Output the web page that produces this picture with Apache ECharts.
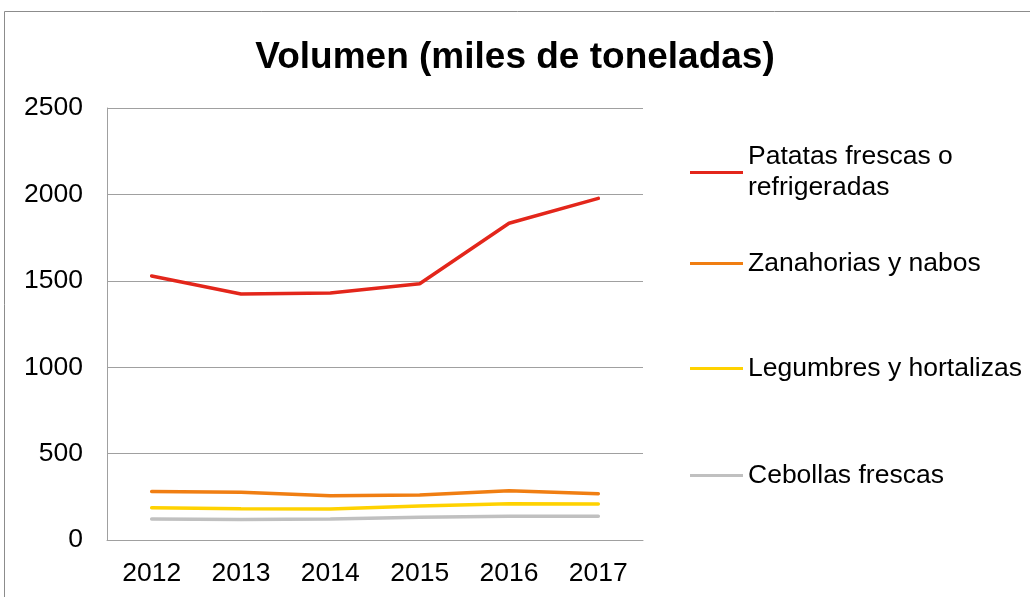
<!DOCTYPE html>
<html>
<head>
<meta charset="utf-8">
<script src="https://cdn.jsdelivr.net/npm/echarts@6/dist/echarts.min.js"></script>
<style>
  html, body { margin: 0; padding: 0; background: #fff; }
  #chart { width: 1030px; height: 597px; }
</style>
</head>
<body>
<div id="chart"></div>
<script>
// datos
var years = ['2012', '2013', '2014', '2015', '2016', '2017'];
var patatas = [1528, 1424, 1430, 1483, 1833, 1977];
var zanahorias = [280, 276, 256, 260, 285, 268];
var legumbres = [187, 181, 179, 197, 210, 208];
var cebollas = [122, 118, 122, 131, 137, 137];
var seriesNames = ['Patatas frescas o\nrefrigeradas', 'Zanahorias y nabos', 'Legumbres y hortalizas', 'Cebollas frescas'];
var seriesColors = ['#E3261B', '#F07E12', '#FFD200', '#C0C0C0'];
var yTicks = [0, 500, 1000, 1500, 2000, 2500];

var chart = echarts.init(document.getElementById('chart'));
var font = 'Liberation Sans, Arial, sans-serif';
var legendTops = [126, 248, 353, 460];
var values = [patatas, zanahorias, legumbres, cebollas];

var legends = seriesNames.map(function (name, i) {
    return {
        data: [name],
        left: 690,
        top: legendTops[i],
        itemWidth: 53,
        itemHeight: 3,
        itemGap: 0,
        padding: 0,
        selectedMode: false,
        icon: 'rect',
        itemStyle: { color: seriesColors[i] },
        textStyle: {
            fontFamily: font,
            fontSize: 26.5,
            color: '#000',
            lineHeight: 31,
            padding: i === 0 ? [31, 0, 0, 0] : 0
        }
    };
});

chart.setOption({
    animation: false,
    title: {
        text: 'Volumen (miles de toneladas)',
        left: 'center',
        top: 34,
        textStyle: { fontFamily: font, fontSize: 37, fontWeight: 'bold', color: '#000' }
    },
    legend: legends,
    grid: { left: 107, right: 387, top: 108, bottom: 57 },
    xAxis: {
        type: 'category',
        data: years,
        boundaryGap: true,
        axisLine: { lineStyle: { color: '#A0A0A0', width: 1 } },
        axisTick: { show: false },
        axisLabel: { fontFamily: font, fontSize: 26.5, color: '#000', margin: 20 }
    },
    yAxis: {
        type: 'value',
        min: yTicks[0],
        max: yTicks[yTicks.length - 1],
        interval: 500,
        axisLine: { show: true, lineStyle: { color: '#A0A0A0', width: 1 } },
        axisTick: { show: false },
        splitLine: { lineStyle: { color: '#A0A0A0', width: 1 } },
        axisLabel: {
            fontFamily: font, fontSize: 26.5, color: '#000', margin: 24,
            formatter: function (v) { return String(v); }
        }
    },
    graphic: [{
        type: 'rect',
        shape: { x: 4.5, y: 11.5, width: 1040, height: 600 },
        style: { fill: null, stroke: '#8C8C8C', lineWidth: 1 },
        silent: true
    }],
    series: seriesNames.map(function (name, i) {
        return {
            type: 'line',
            name: name,
            data: values[i],
            symbol: 'none',
            color: seriesColors[i],
            lineStyle: { width: 3.5, color: seriesColors[i], cap: 'round' }
        };
    })
});
</script>
</body>
</html>
